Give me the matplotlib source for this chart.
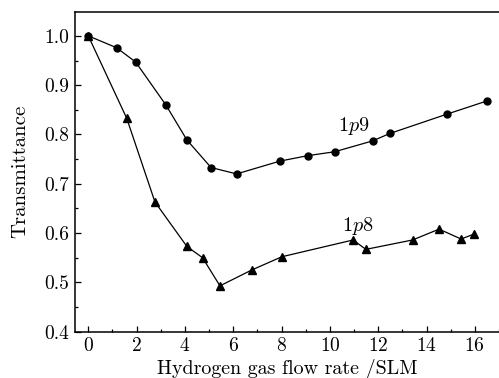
import matplotlib
matplotlib.use("Agg")
from matplotlib import pyplot as plt
from matplotlib.ticker import MultipleLocator

# dados
x_1p9 = [0, 1.17, 1.96, 3.21, 4.08, 5.08, 6.14, 7.93, 9.08, 10.2, 11.77, 12.48, 14.83, 16.5]
y_1p9 = [1.0, 0.976, 0.947, 0.860, 0.789, 0.733, 0.720, 0.746, 0.757, 0.765, 0.787, 0.802, 0.841, 0.868]

x_1p8 = [0, 1.59, 2.76, 4.08, 4.73, 5.45, 6.76, 8.01, 10.96, 11.49, 13.42, 14.52, 15.43, 15.97]
y_1p8 = [1.0, 0.833, 0.663, 0.573, 0.550, 0.493, 0.525, 0.552, 0.586, 0.567, 0.586, 0.608, 0.588, 0.598]

plt.rcParams['font.family'] = 'cmr10'
plt.rcParams['mathtext.fontset'] = 'cm'
plt.rcParams['axes.formatter.use_mathtext'] = True

fig = plt.figure(figsize=(4.99, 3.78), dpi=100)
ax = fig.add_axes([0.1503, 0.1225, 0.8497, 0.8465])

ax.plot(x_1p9, y_1p9, color='black', linewidth=0.9, marker='o', markersize=5)
ax.plot(x_1p8, y_1p8, color='black', linewidth=0.9, marker='^', markersize=6)

ax.text(11.0, 0.818, r'1$p$9', fontsize=14.5, ha='center', va='center')
ax.text(11.14, 0.615, r'1$p$8', fontsize=14.5, ha='center', va='center')

ax.set_xlim(-0.55, 17.0)
ax.set_ylim(0.4, 1.049)
ax.xaxis.set_major_locator(MultipleLocator(2))
ax.xaxis.set_minor_locator(MultipleLocator(1))
ax.yaxis.set_major_locator(MultipleLocator(0.1))
ax.yaxis.set_minor_locator(MultipleLocator(0.05))
ax.yaxis.set_major_formatter(matplotlib.ticker.FormatStrFormatter('%.1f'))
ax.tick_params(which='both', direction='in', labelsize=14, top=False, right=False)
ax.tick_params(which='major', length=4, width=0.9, pad=4)
ax.tick_params(which='minor', length=2.5, width=0.9)
ax.spines['right'].set_visible(False)
for s in ['left', 'bottom', 'top']:
    ax.spines[s].set_linewidth(1.1)

ax.set_xlabel('Hydrogen gas flow rate /SLM', fontsize=14.4, labelpad=3)
ax.set_ylabel('Transmittance', fontsize=15, labelpad=11)

plt.savefig('out.png', dpi=100)
